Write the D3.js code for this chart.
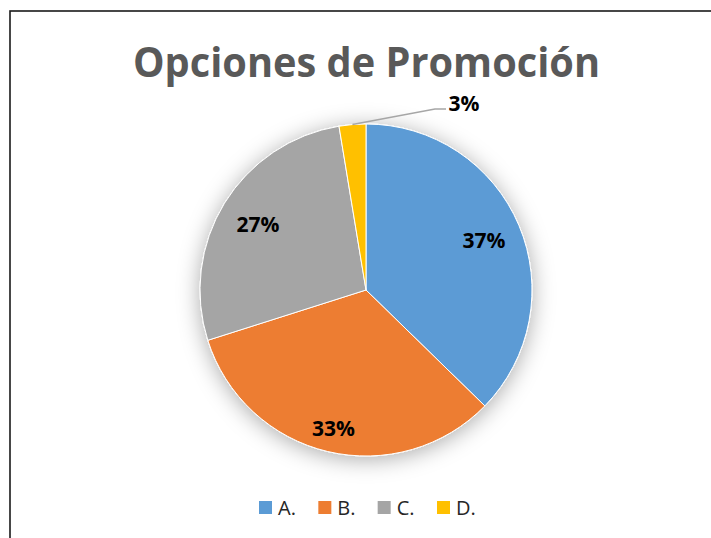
<!DOCTYPE html>
<html>
<head>
<meta charset="utf-8">
<script src="https://cdn.jsdelivr.net/npm/d3@7"></script>
<style>
  html, body { margin: 0; padding: 0; background: #fff; }
  svg { display: block; }
</style>
</head>
<body>
<svg id="chart" width="711" height="538"></svg>
<script>
// ---- data ----
const categories = ["A.", "B.", "C.", "D."];
const values = [37.3, 32.8, 27.3, 2.6];
const colors = ["#5B9BD5", "#ED7D31", "#A5A5A5", "#FFC000"];
const title = "Opciones de Promoción";

// ---- layout ----
const W = 711, H = 538;
const cx = 366, cy = 290, R = 166;
const labelRadius = [0.771, 0.852, 0.763, null]; // inside labels; D uses leader
const svg = d3.select("#chart");

svg.append("rect").attr("width", W).attr("height", H).attr("fill", "#fff");
// chart border
svg.append("rect")
  .attr("x", 10).attr("y", 11).attr("width", 740).attr("height", 560)
  .attr("fill", "none").attr("stroke", "#1a1a1a").attr("stroke-width", 1.6);

// shadow filter
const defs = svg.append("defs");
const f = defs.append("filter").attr("id", "shadow")
  .attr("x", "-30%").attr("y", "-30%").attr("width", "160%").attr("height", "160%");
f.append("feDropShadow").attr("dx", 0).attr("dy", 3).attr("stdDeviation", 11)
  .attr("flood-color", "#000").attr("flood-opacity", 0.33);

// title
svg.append("text")
  .attr("x", 366.5).attr("y", 77)
  .attr("text-anchor", "middle")
  .attr("font-family", "'Open Sans', sans-serif")
  .attr("font-weight", 700)
  .attr("font-size", 41)
  .attr("fill", "#595959")
  .attr("textLength", 467)
  .attr("lengthAdjust", "spacingAndGlyphs")
  .text(title);

const total = d3.sum(values);
const pie = d3.pie().sort(null).value(d => d);
const arcs = pie(values);
const arc = d3.arc().innerRadius(0).outerRadius(R);

const g = svg.append("g").attr("transform", `translate(${cx},${cy})`);
const slices = g.append("g").attr("filter", "url(#shadow)");
slices.selectAll("path").data(arcs).join("path")
  .attr("d", arc)
  .attr("fill", (d, i) => colors[i])
  .attr("stroke", "#fff").attr("stroke-width", 1);

const fmt = v => Math.round(v / total * 100) + "%";

// inside labels
arcs.forEach((d, i) => {
  if (labelRadius[i] == null) return;
  const a = (d.startAngle + d.endAngle) / 2;
  const r = R * labelRadius[i];
  g.append("text")
    .attr("x", r * Math.sin(a)).attr("y", -r * Math.cos(a))
    .attr("text-anchor", "middle").attr("dominant-baseline", "central")
    .attr("font-family", "'Open Sans', sans-serif").attr("font-weight", 700)
    .attr("font-size", 21).attr("fill", "#000")
    .text(fmt(values[i]));
});

// D label with leader line
{
  const d = arcs[3];
  const a = (d.startAngle + d.endAngle) / 2;
  const p0 = [R * Math.sin(a), -R * Math.cos(a)];
  const p1 = [435 - cx, 109 - cy];
  const p2 = [446 - cx, 109 - cy];
  g.append("polyline")
    .attr("points", [p0, p1, p2].map(p => p.join(",")).join(" "))
    .attr("fill", "none").attr("stroke", "#A6A6A6").attr("stroke-width", 1.5);
  g.append("text")
    .attr("x", 464 - cx).attr("y", 103 - cy)
    .attr("text-anchor", "middle").attr("dominant-baseline", "central")
    .attr("font-family", "'Open Sans', sans-serif").attr("font-weight", 700)
    .attr("font-size", 21).attr("fill", "#000")
    .text(fmt(values[3]));
}

// legend
const legendX = d3.scalePoint().domain(categories).range([259, 437]);
const lg = svg.append("g");
categories.forEach((c, i) => {
  const x = legendX(c);
  lg.append("rect").attr("x", x).attr("y", 501).attr("width", 13).attr("height", 13)
    .attr("fill", colors[i]);
  lg.append("text").attr("x", x + 19).attr("y", 514.5)
    .attr("font-family", "'Open Sans', sans-serif").attr("font-size", 20)
    .attr("fill", "#262626")
    .text(c);
});
</script>
</body>
</html>
